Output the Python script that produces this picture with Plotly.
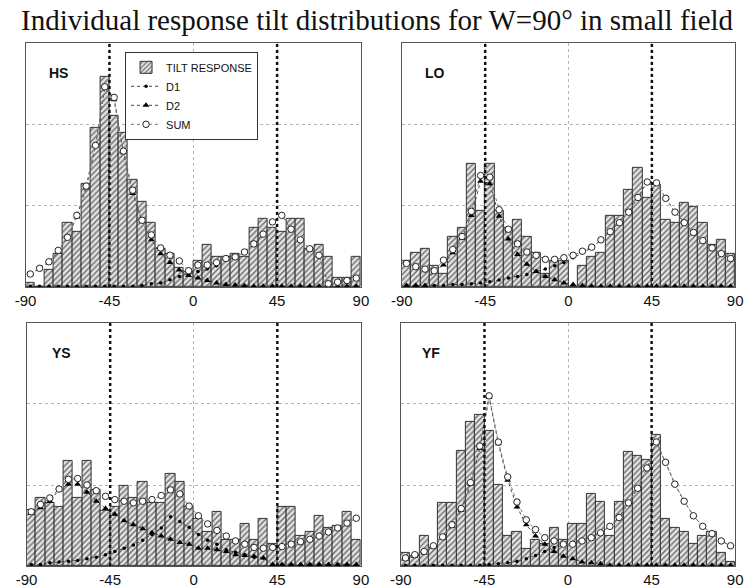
import plotly.graph_objects as go

# ---------------- data ----------------
TITLE = "Individual response tilt distributions for W=90° in small field"
BIN_CENTERS = [-87.5, -82.5, -77.5, -72.5, -67.5, -62.5, -57.5, -52.5, -47.5, -42.5,
               -37.5, -32.5, -27.5, -22.5, -17.5, -12.5, -7.5, -2.5, 2.5, 7.5,
               12.5, 17.5, 22.5, 27.5, 32.5, 37.5, 42.5, 47.5, 52.5, 57.5,
               62.5, 67.5, 72.5, 77.5, 82.5, 87.5]
TICK_VALS = [-90, -45, 0, 45, 90]
TICK_TEXT = ["-90", "-45", "0", "45", "90"]
REF_LINES = [-45, 45]
PANELS = ["HS", "LO", "YS", "YF"]

HS_BARS = [0.05, 0.0, 0.21, 0.41, 0.79, 0.68, 1.27, 1.95, 2.58, 2.10, 1.89, 1.32, 1.05, 0.79, 0.47, 0.41, 0.23, 0.19,
           0.32, 0.52, 0.37, 0.37, 0.41, 0.37, 0.73, 0.84, 0.73, 0.68, 0.84, 0.84, 0.47, 0.52, 0.37, 0.11, 0.11, 0.37]
HS_D1 = [0.01, 0.01, 0.01, 0.01, 0.01, 0.01, 0.01, 0.01, 0.01, 0.01, 0.01, 0.01, 0.02, 0.04, 0.05, 0.09, 0.13, 0.16,
         0.19, 0.22, 0.26, 0.33, 0.36, 0.43, 0.53, 0.65, 0.80, 0.88, 0.71, 0.58, 0.47, 0.39, 0.04, 0.06, 0.08, 0.11]
HS_D2 = [0.16, 0.23, 0.30, 0.43, 0.61, 0.86, 1.22, 1.73, 2.45, 2.30, 1.65, 1.15, 0.81, 0.58, 0.41, 0.30, 0.21, 0.14,
         0.11, 0.08, 0.05, 0.03, 0.025, 0.015, 0.01, 0.01, 0.01, 0.01, 0.01, 0.01, 0.01, 0.01, 0.01, 0.01, 0.01, 0.01]
HS_SUM = [0.16, 0.23, 0.31, 0.45, 0.61, 0.88, 1.24, 1.74, 2.46, 2.33, 1.67, 1.19, 0.82, 0.64, 0.48, 0.39, 0.32, 0.20,
          0.27, 0.27, 0.30, 0.35, 0.37, 0.43, 0.53, 0.65, 0.80, 0.88, 0.71, 0.58, 0.47, 0.39, 0.04, 0.06, 0.08, 0.11]

LO_BARS = [0.32, 0.42, 0.47, 0.26, 0.16, 0.62, 0.73, 1.51, 0.94, 1.51, 0.94, 0.73, 0.83, 0.62, 0.42, 0.16, 0.32, 0.32,
           0.0, 0.26, 0.37, 0.42, 0.88, 0.88, 1.20, 1.46, 1.09, 1.25, 0.83, 0.79, 1.03, 0.99, 0.79, 0.52, 0.58, 0.41]
LO_D1 = [0.02, 0.02, 0.02, 0.02, 0.02, 0.03, 0.03, 0.04, 0.05, 0.065, 0.085, 0.11, 0.13, 0.155, 0.19, 0.22, 0.26, 0.30,
         0.36, 0.42, 0.48, 0.58, 0.68, 0.79, 0.92, 1.10, 1.29, 1.28, 1.09, 0.92, 0.79, 0.67, 0.57, 0.48, 0.41, 0.35]
LO_D2 = [0.02, 0.02, 0.02, 0.20, 0.27, 0.42, 0.60, 0.88, 1.30, 1.27, 0.87, 0.59, 0.40, 0.28, 0.19, 0.13, 0.09, 0.05,
         0.03, 0.02, 0.01, 0.01, 0.01, 0.01, 0.01, 0.01, 0.01, 0.01, 0.01, 0.01, 0.01, 0.01, 0.01, 0.01, 0.01, 0.01]
LO_SUM = [0.29, 0.25, 0.22, 0.20, 0.33, 0.46, 0.62, 0.93, 1.37, 1.35, 0.95, 0.71, 0.53, 0.43, 0.39, 0.34, 0.34, 0.36,
          0.39, 0.44, 0.49, 0.58, 0.68, 0.79, 0.92, 1.10, 1.29, 1.28, 1.09, 0.92, 0.79, 0.67, 0.57, 0.48, 0.41, 0.35]

YS_BARS = [0.69, 0.84, 0.78, 0.73, 1.30, 0.84, 1.30, 0.94, 0.68, 0.73, 0.99, 0.84, 1.04, 0.78, 0.78, 1.14, 1.04, 0.73,
           0.58, 0.42, 0.67, 0.32, 0.32, 0.52, 0.32, 0.58, 0.27, 0.73, 0.73, 0.37, 0.42, 0.62, 0.47, 0.49, 0.67, 0.32]
YS_D1 = [0.02, 0.02, 0.04, 0.05, 0.06, 0.07, 0.09, 0.11, 0.14, 0.18, 0.22, 0.26, 0.32, 0.39, 0.47, 0.61, 0.55, 0.48,
         0.39, 0.32, 0.27, 0.20, 0.17, 0.14, 0.11, 0.10, 0.02, 0.02, 0.02, 0.02, 0.02, 0.02, 0.02, 0.02, 0.02, 0.02]
YS_D2 = [0.65, 0.72, 0.80, 0.94, 1.01, 1.01, 0.91, 0.80, 0.71, 0.64, 0.56, 0.51, 0.46, 0.41, 0.37, 0.33, 0.29, 0.27,
         0.22, 0.22, 0.20, 0.18, 0.14, 0.13, 0.12, 0.10, 0.02, 0.02, 0.02, 0.02, 0.02, 0.02, 0.02, 0.02, 0.02, 0.02]
YS_SUM = [0.67, 0.76, 0.84, 0.95, 1.07, 1.08, 1.00, 0.93, 0.86, 0.82, 0.80, 0.78, 0.80, 0.82, 0.87, 0.94, 0.89, 0.74,
          0.62, 0.52, 0.44, 0.37, 0.31, 0.27, 0.23, 0.22, 0.23, 0.24, 0.27, 0.30, 0.33, 0.37, 0.42, 0.47, 0.53, 0.59]

YF_BARS = [0.16, 0.12, 0.37, 0.22, 0.78, 0.78, 1.42, 1.78, 1.87, 1.67, 1.00, 0.37, 0.42, 0.21, 0.32, 0.27, 0.47, 0.32,
           0.52, 0.52, 0.89, 0.79, 0.37, 0.79, 1.41, 1.36, 1.31, 1.62, 0.58, 0.47, 0.42, 0.27, 0.37, 0.42, 0.16, 0.05]
YF_D1 = [0.01, 0.01, 0.01, 0.01, 0.01, 0.01, 0.01, 0.01, 0.01, 0.02, 0.03, 0.04, 0.06, 0.09, 0.13, 0.18, 0.23, 0.26,
         0.29, 0.33, 0.36, 0.41, 0.49, 0.60, 0.78, 0.96, 1.21, 1.53, 1.28, 1.01, 0.80, 0.62, 0.49, 0.40, 0.31, 0.25]
YF_D2 = [0.08, 0.12, 0.16, 0.24, 0.35, 0.49, 0.69, 1.01, 1.45, 2.08, 1.51, 1.06, 0.73, 0.51, 0.37, 0.27, 0.18, 0.12,
         0.09, 0.05, 0.04, 0.03, 0.01, 0.01, 0.01, 0.01, 0.01, 0.01, 0.01, 0.01, 0.01, 0.01, 0.01, 0.01, 0.01, 0.01]
YF_SUM = [0.10, 0.14, 0.18, 0.25, 0.36, 0.51, 0.71, 1.03, 1.48, 2.10, 1.53, 1.10, 0.79, 0.57, 0.45, 0.35, 0.31, 0.27,
          0.27, 0.31, 0.35, 0.41, 0.49, 0.60, 0.78, 0.96, 1.21, 1.53, 1.28, 1.01, 0.80, 0.62, 0.49, 0.40, 0.31, 0.25]

DATA = {
    "HS": (HS_BARS, HS_D1, HS_D2, HS_SUM),
    "LO": (LO_BARS, LO_D1, LO_D2, LO_SUM),
    "YS": (YS_BARS, YS_D1, YS_D2, YS_SUM),
    "YF": (YF_BARS, YF_D1, YF_D2, YF_SUM),
}

# ---------------- layout geometry ----------------
W, H = 751, 588


def px_dom_x(a, b):
    return [a / W, b / W]


def px_dom_y(top, bottom):
    return [1 - bottom / H, 1 - top / H]


DOMAINS = {
    "HS": (px_dom_x(15, 359), px_dom_y(43, 288)),
    "LO": (px_dom_x(401, 743), px_dom_y(43, 288)),
    "YS": (px_dom_x(16, 359), px_dom_y(324, 568)),
    "YF": (px_dom_x(400, 743), px_dom_y(324, 568)),
}
LABEL_X = {"HS": 0.064, "LO": 0.064, "YS": 0.07, "YF": 0.058}

SANS = "Arial, Liberation Sans, sans-serif"

fig = go.Figure()
layout = dict(
    width=W, height=H,
    margin=dict(l=0, r=0, t=0, b=0),
    paper_bgcolor="white", plot_bgcolor="white",
    bargap=0, barmode="overlay",
    showlegend=True,
    legend=dict(x=117 / W, y=1 - 52 / H, xanchor="left", yanchor="top",
                bgcolor="white", bordercolor="#333", borderwidth=1,
                font=dict(family=SANS, size=11, color="#111"),
                itemwidth=30, tracegroupgap=0),
    annotations=[], shapes=[],
)

for i, name in enumerate(PANELS):
    k = "" if i == 0 else str(i + 1)
    xa, ya = "x" + k, "y" + k
    bars, d1, d2, sm = DATA[name]
    first = i == 0
    fig.add_trace(go.Bar(
        x=BIN_CENTERS, y=bars, width=5, xaxis=xa, yaxis=ya,
        name="TILT RESPONSE", legendgroup="bars", showlegend=first,
        marker=dict(color="#dcdcdc",
                    line=dict(color="#333", width=1),
                    pattern=dict(shape="/", fgcolor="#6a6a6a", bgcolor="#e4e4e4",
                                 size=4, solidity=0.35, fillmode="replace")),
    ))
    fig.add_trace(go.Scatter(
        x=BIN_CENTERS, y=d1, xaxis=xa, yaxis=ya, mode="lines+markers",
        name="D1", legendgroup="d1", showlegend=first,
        line=dict(color="#444", width=1, dash="dot"),
        marker=dict(symbol="circle", size=3.5, color="#000"),
    ))
    fig.add_trace(go.Scatter(
        x=BIN_CENTERS, y=d2, xaxis=xa, yaxis=ya, mode="lines+markers",
        name="D2", legendgroup="d2", showlegend=first,
        line=dict(color="#444", width=1, dash="dot"),
        marker=dict(symbol="triangle-up", size=6, color="#000"),
    ))
    fig.add_trace(go.Scatter(
        x=BIN_CENTERS, y=sm, xaxis=xa, yaxis=ya, mode="lines+markers",
        name="SUM", legendgroup="sum", showlegend=first,
        line=dict(color="#777", width=1, dash="dot"),
        marker=dict(symbol="circle", size=6.5, color="white",
                    line=dict(color="#222", width=1)),
    ))

    xd, yd = DOMAINS[name]
    layout["xaxis" + k] = dict(
        domain=xd, anchor=ya, range=[-90, 90],
        tickmode="array", tickvals=TICK_VALS, ticktext=TICK_TEXT,
        ticks="", showgrid=True, gridcolor="#b5b5b5", griddash="dot", gridwidth=1,
        zeroline=False, showline=True, mirror=True, linecolor="#555", linewidth=1,
        tickfont=dict(family=SANS, size=15, color="#111"),
        fixedrange=True,
    )
    layout["yaxis" + k] = dict(
        domain=yd, anchor=xa, range=[0, 3], dtick=1,
        showticklabels=False, ticks="",
        showgrid=True, gridcolor="#b5b5b5", griddash="dot", gridwidth=1,
        zeroline=False, showline=True, mirror=True, linecolor="#555", linewidth=1,
        fixedrange=True,
    )
    layout["annotations"].append(dict(
        text="<b>%s</b>" % name, xref=xa + " domain", yref=ya + " domain",
        x=LABEL_X[name], y=0.875, xanchor="left", yanchor="middle", showarrow=False,
        font=dict(family=SANS, size=14, color="#111"),
    ))
    for v in REF_LINES:
        layout["shapes"].append(dict(
            type="line", xref=xa, yref=ya + " domain", x0=v, x1=v, y0=0, y1=1,
            line=dict(color="#111", width=2.5, dash="dot"), layer="above",
        ))

layout["annotations"].append(dict(
    text=TITLE, xref="paper", yref="paper", x=0.5, y=1 - 20 / H,
    xanchor="center", yanchor="middle", showarrow=False,
    font=dict(family="Liberation Serif, Times New Roman, serif", size=29, color="#111"),
))

fig.update_layout(**layout)
fig.write_html("out.html")
